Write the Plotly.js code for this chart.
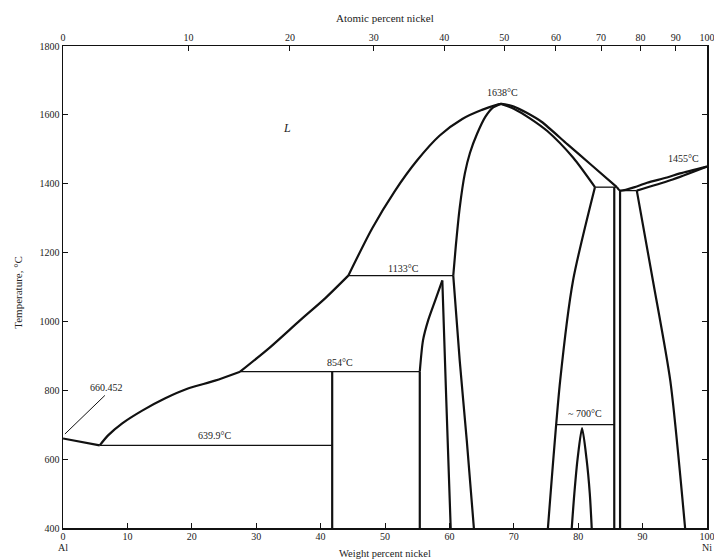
<!DOCTYPE html>
<html>
<head>
<meta charset="utf-8">
<script src="https://cdn.plot.ly/plotly-3.0.1.min.js"></script>
<style>html,body{margin:0;padding:0;background:#fff;}#chart{width:714px;height:560px;}</style>
</head>
<body>
<div id="chart"></div>
<script>
// ---- axis ticks ----
const wtTicks = [0, 10, 20, 30, 40, 50, 60, 70, 80, 90, 100];
const atTickLabels = ['0', '10', '20', '30', '40', '50', '60', '70', '80', '90', '100'];
const atTickPosWt = [0, 19.47, 35.23, 48.25, 59.19, 68.51, 76.54, 83.54, 89.69, 95.14, 100];
const tempTicks = [400, 600, 800, 1000, 1200, 1400, 1600, 1800];

// ---- liquidus (wt% Ni, °C) ----
const liqAlX = [0, 5.7];
const liqAlT = [660, 640];
const liqA3X = [5.7, 7.0, 9.2, 12.3, 15.8, 19.4, 23.6, 27.5];
const liqA3T = [640, 669, 704, 741, 776, 805, 828, 854];
const liqB3X = [27.5, 32.1, 36.8, 40.7, 44.3];
const liqB3T = [854, 924, 1003, 1067, 1133];
const liqTopX = [44.3, 48.0, 51.5, 55.0, 58.5, 62.0, 65.0, 68.0, 70.0, 72.0, 74.3, 78.3, 82.0, 86.0];
const liqTopT = [1133, 1270, 1378, 1468, 1540, 1588, 1614, 1632, 1624, 1606, 1580, 1515, 1455, 1390];
const liqNiX = [86.0, 86.5, 89.1, 90.7, 93.8, 95.8, 100];
const liqNiT = [1390, 1380, 1392, 1403, 1418, 1430, 1450];

// ---- Ni solid solution ----
const niSolidusX = [89.1, 94.3, 100];
const niSolidusT = [1380, 1410, 1450];
const niSolvusX = [89.1, 91.6, 94.3, 96.6];
const niSolvusT = [1380, 1119, 828, 400];

// ---- AlNi phase ----
const alniLeftX = [68.0, 66.8, 65.6, 64.3, 63.2, 62.4, 61.6, 61.0, 60.6];
const alniLeftT = [1632, 1622, 1595, 1545, 1490, 1430, 1330, 1220, 1133];
const alniLeftLowX = [60.6, 61.6, 62.7, 63.8];
const alniLeftLowT = [1133, 887, 654, 400];
const alniRightX = [68.0, 70.0, 72.5, 75.2, 79.2, 82.6];
const alniRightT = [1632, 1618, 1590, 1553, 1476, 1390];
const alniRightLowX = [82.6, 79.2, 77.2, 75.3];
const alniRightLowT = [1390, 1119, 828, 400];

// ---- Al3Ni2 phase ----
const al3ni2DomeX = [55.4, 55.9, 56.7, 57.8, 58.9];
const al3ni2DomeT = [854, 945, 1003, 1061, 1119];
const al3ni2RightX = [58.9, 59.5, 60.2];
const al3ni2RightT = [1119, 780, 400];
const al3ni2LeftX = [55.4, 55.4];
const al3ni2LeftT = [854, 400];

// ---- Al3Ni line compound ----
const al3niX = [41.8, 41.8];
const al3niT = [854, 400];

// ---- Ni5Al3 dome ----
const ni5al3X = [79.0, 79.4, 79.9, 80.6, 81.3, 81.8, 82.1];
const ni5al3T = [400, 500, 600, 690, 600, 500, 400];

// ---- Ni3Al ----
const ni3alLeftX = [85.6, 85.6];
const ni3alLeftT = [1390, 400];
const ni3alRightX = [86.5, 86.5];
const ni3alRightT = [1380, 400];

// ---- isotherms [x0, x1, T] ----
const isoEut640 = [5.7, 41.8, 640];
const isoPer854 = [27.5, 55.4, 854];
const isoPer1133 = [44.3, 60.6, 1133];
const isoPer1390 = [82.6, 86.0, 1390];
const isoEut1380 = [86.5, 89.1, 1380];
const iso700 = [76.6, 85.6, 700];

// ---- 660.452 leader ----
const leaderX = [0.3, 6.5];
const leaderT = [673, 785];

// ---- labels ----
const labelText = ['660.452', '639.9°C', '854°C', '1133°C', '1638°C', '1455°C', '~ 700°C'];
const labelX = [6.7, 23.6, 43.0, 52.8, 68.2, 96.3, 81.1];
const labelT = [808, 669, 882, 1155, 1664, 1474, 733];

const traces = [];
function addLine(x, y, w, shape) {
  traces.push({
    type: 'scatter', mode: 'lines', x: x, y: y, xaxis: 'x', yaxis: 'y',
    line: {color: '#111', width: w, shape: shape || 'linear', smoothing: 0.7},
    hoverinfo: 'skip', showlegend: false
  });
}
function addIso(a, w) { addLine([a[0], a[1]], [a[2], a[2]], w); }

addLine(liqAlX, liqAlT, 2.2);
addLine(liqA3X, liqA3T, 2.2, 'spline');
addLine(liqB3X, liqB3T, 2.2, 'spline');
addLine(liqTopX, liqTopT, 2.2, 'spline');
addLine(liqNiX, liqNiT, 2.2, 'spline');
addLine(niSolidusX, niSolidusT, 2.2, 'spline');
addLine(niSolvusX, niSolvusT, 2.2, 'spline');
addLine(alniLeftX, alniLeftT, 2.2, 'spline');
addLine(alniLeftLowX, alniLeftLowT, 2.2, 'spline');
addLine(alniRightX, alniRightT, 2.2, 'spline');
addLine(alniRightLowX, alniRightLowT, 2.2, 'spline');
addLine(al3ni2DomeX, al3ni2DomeT, 2.2, 'spline');
addLine(al3ni2RightX, al3ni2RightT, 2.2, 'spline');
addLine(al3ni2LeftX, al3ni2LeftT, 2.2);
addLine(al3niX, al3niT, 2.2);
addLine(ni5al3X, ni5al3T, 2.2, 'spline');
addLine(ni3alLeftX, ni3alLeftT, 2.2);
addLine(ni3alRightX, ni3alRightT, 2.2);
addIso(isoEut640, 1.3);
addIso(isoPer854, 1.3);
addIso(isoPer1133, 1.3);
addIso(isoPer1390, 1.3);
addIso(isoEut1380, 1.3);
addIso(iso700, 1.3);
addLine(leaderX, leaderT, 1);

// invisible trace to create the top atomic-percent axis
traces.push({type: 'scatter', mode: 'markers', x: [50], y: [1000], xaxis: 'x2', yaxis: 'y',
  marker: {opacity: 0}, hoverinfo: 'skip', showlegend: false});

const serif = 'Liberation Serif, Times New Roman, serif';
const annotations = labelText.map((t, i) => ({
  x: labelX[i], y: labelT[i], xref: 'x', yref: 'y', text: t, showarrow: false,
  xanchor: 'center', yanchor: 'middle',
  font: {family: serif, size: 10, color: '#222'}
}));
function paperText(x, xref, y, text, size, angle) {
  annotations.push({x: x, y: y, xref: xref, yref: 'paper', text: text, showarrow: false,
    xanchor: 'center', yanchor: 'middle', textangle: angle || 0,
    font: {family: serif, size: size, color: '#222'}});
}
annotations.push({x: 34.8, y: 1563, xref: 'x', yref: 'y', text: '<i>L</i>', showarrow: false,
  xanchor: 'center', yanchor: 'middle', font: {family: serif, size: 12, color: '#222'}});
paperText(0, 'x', -0.04, 'Al', 10);
paperText(100, 'x', -0.04, 'Ni', 10);
paperText(50, 'x', -0.053, 'Weight percent nickel', 10.5);
paperText(50, 'x', 1.058, 'Atomic percent nickel', 11);
paperText(-0.07, 'paper', 0.49, 'Temperature, °C', 11, -90);

const axisCommon = {
  showgrid: false, zeroline: false, showline: true, linecolor: '#111', linewidth: 1.5,
  ticks: 'inside', ticklen: 5, tickcolor: '#111', ticklabeloverflow: 'allow',
  tickfont: {family: serif, size: 10, color: '#222'}
};

const layout = {
  width: 714, height: 560,
  margin: {l: 63, r: 7, t: 46, b: 32, pad: 0},
  paper_bgcolor: '#fff', plot_bgcolor: '#fff',
  font: {family: serif, size: 10, color: '#222'},
  showlegend: false,
  xaxis: Object.assign({}, axisCommon, {range: [0, 100], tickvals: wtTicks,
    ticktext: wtTicks.map(String), mirror: true, ticklabelstandoff: -2}),
  xaxis2: Object.assign({}, axisCommon, {range: [0, 100], overlaying: 'x', side: 'top',
    tickvals: atTickPosWt, ticktext: atTickLabels}),
  yaxis: Object.assign({}, axisCommon, {range: [400, 1800], tickvals: tempTicks,
    ticktext: tempTicks.map(String), mirror: 'ticks'}),
  annotations: annotations
};

Plotly.newPlot('chart', traces, layout, {staticPlot: true, displayModeBar: false});
</script>
</body>
</html>
